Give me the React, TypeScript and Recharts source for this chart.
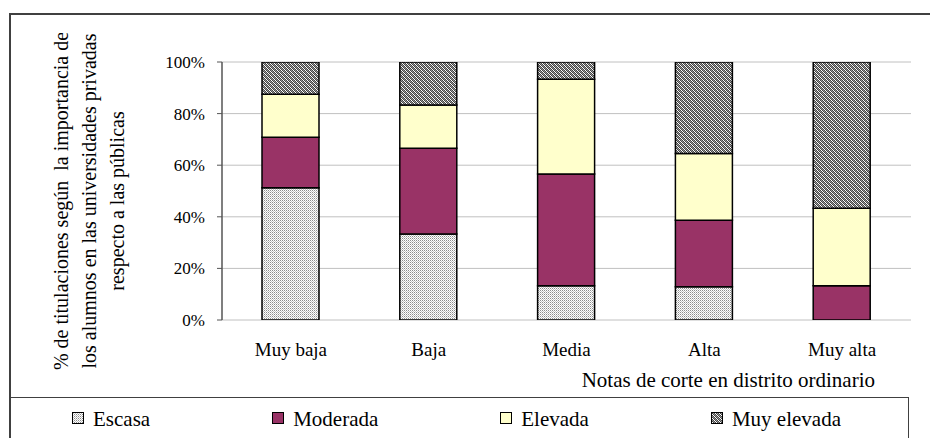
import React from 'react';
import { BarChart, Bar, XAxis, YAxis, CartesianGrid } from 'recharts';

const categories = ['Muy baja', 'Baja', 'Media', 'Alta', 'Muy alta'];
const escasa = [51.3, 33.3, 13.3, 12.9, 0];
const moderada = [19.5, 33.3, 43.3, 25.8, 13.3];
const elevada = [16.7, 16.7, 36.7, 25.8, 30.0];
const muyElevada = [12.5, 16.7, 6.7, 35.5, 56.7];
const seriesNames = ['Escasa', 'Moderada', 'Elevada', 'Muy elevada'];
const seriesKeys = ['escasa', 'moderada', 'elevada', 'muyElevada'];
const seriesFills = ['url(#patEscasa)', '#993366', '#FFFFCC', 'url(#patMuyElevada)'];
const yTicks = [0, 20, 40, 60, 80, 100];
const boundaryTicks = [0, 1, 2, 3, 4, 5];
const xAxisTitle = 'Notas de corte en distrito ordinario';
const yAxisTitleLines = [
  '% de titulaciones según  la importancia de',
  'los alumnos en las universidades privadas',
  'respecto a las públicas',
];

const data = categories.map((name, i) => ({
  name,
  escasa: escasa[i],
  moderada: moderada[i],
  elevada: elevada[i],
  muyElevada: muyElevada[i],
}));

const FONT = "'Liberation Serif', 'Times New Roman', serif";

const YTitle = (props: any) => {
  const vb = props.viewBox || { x: 0, y: 62, width: 222, height: 258 };
  const cy = vb.y + vb.height / 2 + 10;
  const xs = [vb.x + 68, vb.x + 96, vb.x + 124];
  return (
    <g>
      <defs>
        <clipPath id="yTitleClip">
          <rect x={0} y={33} width={930} height={405} />
        </clipPath>
      </defs>
      <g clipPath="url(#yTitleClip)">
        {yAxisTitleLines.map((line, i) => (
          <text
            key={i}
            x={xs[i]}
            y={cy}
            transform={`rotate(-90 ${xs[i]} ${cy})`}
            textAnchor="middle"
            fontFamily={FONT}
            fontSize={20}
            fill="#000"
            style={{ whiteSpace: 'pre' }}
          >
            {line}
          </text>
        ))}
      </g>
    </g>
  );
};

const XTitle = (props: any) => {
  const vb = props.viewBox || { x: 222, y: 320, width: 689, height: 70 };
  return (
    <text
      x={vb.x + vb.width - 36}
      y={vb.y + 67}
      textAnchor="end"
      fontFamily={FONT}
      fontSize={21}
      fill="#000"
    >
      {xAxisTitle}
    </text>
  );
};

export default function App() {
  return (
    <div
      style={{
        position: 'fixed',
        left: 0,
        top: 0,
        width: 930,
        height: 438,
        overflow: 'hidden',
        background: '#fff',
      }}
    >
      <div style={{ position: 'absolute', left: 0, top: 0 }}>
        <BarChart
          width={930}
          height={438}
          data={data}
          margin={{ top: 62, right: 19, bottom: 48, left: 0 }}
        >
          <defs>
            <pattern id="patEscasa" width={2} height={2} patternUnits="userSpaceOnUse">
              <rect x={0} y={0} width={2} height={2} fill="#ffffff" />
              <rect x={0} y={0} width={1} height={1} fill="#8c8c8c" />
              <rect x={1} y={1} width={1} height={1} fill="#c4c4c4" />
            </pattern>
            <pattern id="patMuyElevada" width={4} height={4} patternUnits="userSpaceOnUse">
              <rect x={0} y={0} width={4} height={4} fill="#ffffff" />
              <rect x={0} y={0} width={1} height={1} fill="#444444" />
              <rect x={2} y={0} width={1} height={1} fill="#444444" />
              <rect x={1} y={1} width={1} height={1} fill="#444444" />
              <rect x={3} y={1} width={1} height={1} fill="#444444" />
              <rect x={0} y={2} width={1} height={1} fill="#444444" />
              <rect x={2} y={2} width={1} height={1} fill="#444444" />
              <rect x={1} y={3} width={1} height={1} fill="#444444" />
              <rect x={3} y={3} width={1} height={1} fill="#444444" />
              <rect x={1} y={0} width={1} height={1} fill="#999999" />
              <rect x={2} y={1} width={1} height={1} fill="#999999" />
              <rect x={3} y={2} width={1} height={1} fill="#999999" />
              <rect x={0} y={3} width={1} height={1} fill="#999999" />
            </pattern>
          </defs>
          <CartesianGrid
            vertical={false}
            stroke="#c0c0c0"
            strokeWidth={1}
            xAxisId="cat"
            yAxisId="y"
          />
          <XAxis
            xAxisId="bnd"
            type="number"
            domain={[0, 5]}
            ticks={boundaryTicks}
            allowDataOverflow
            tick={false}
            tickSize={5}
            height={0}
            axisLine={{ stroke: '#555', strokeWidth: 1.5 }}
            tickLine={{ stroke: '#555', strokeWidth: 1 }}
          />
          <XAxis
            xAxisId="cat"
            dataKey="name"
            type="category"
            height={70}
            tickSize={0}
            tickMargin={23}
            axisLine={false}
            tickLine={false}
            tick={{ fill: '#000', fontSize: 19, fontFamily: FONT }}
            label={<XTitle />}
          />
          <YAxis
            yAxisId="y"
            type="number"
            domain={[0, 100]}
            allowDataOverflow
            ticks={yTicks}
            tickFormatter={(v: number) => `${v}%`}
            width={222}
            tickSize={5}
            tickMargin={12}
            axisLine={{ stroke: '#555', strokeWidth: 1.5 }}
            tickLine={{ stroke: '#555' }}
            tick={{ fill: '#000', fontSize: 17, fontFamily: FONT }}
            label={<YTitle />}
          />
          {seriesKeys.map((k, i) => (
            <Bar
              key={k}
              dataKey={k}
              name={seriesNames[i]}
              stackId="a"
              xAxisId="cat"
              yAxisId="y"
              barSize={57}
              fill={seriesFills[i]}
              stroke="#000"
              strokeWidth={1.5}
              isAnimationActive={false}
            />
          ))}
        </BarChart>
      </div>
      {/* outer frame */}
      <div
        style={{
          position: 'absolute',
          left: 9,
          top: 13,
          width: 1000,
          height: 1000,
          border: '2px solid #404040',
          boxSizing: 'border-box',
        }}
      />
      {/* legend box */}
      <div
        style={{
          position: 'absolute',
          left: 9,
          top: 397,
          width: 900,
          height: 100,
          borderTop: '1.5px solid #404040',
          borderRight: '1.5px solid #404040',
          boxSizing: 'border-box',
        }}
      />
      <div
        style={{
          position: 'absolute',
          left: 72,
          top: 407,
          display: 'flex',
          alignItems: 'center',
          gap: 122,
          fontFamily: FONT,
          fontSize: 21,
          lineHeight: '24px',
          color: '#000',
          whiteSpace: 'nowrap',
        }}
      >
        {seriesNames.map((n, i) => (
          <div key={n} style={{ display: 'flex', alignItems: 'center' }}>
            <svg width={12} height={12} style={{ marginRight: 9, marginTop: -2 }}>
              <rect x={0.5} y={0.5} width={11} height={11} fill={seriesFills[i]} stroke="#000" strokeWidth={1} />
            </svg>
            <span>{n}</span>
          </div>
        ))}
      </div>
    </div>
  );
}
